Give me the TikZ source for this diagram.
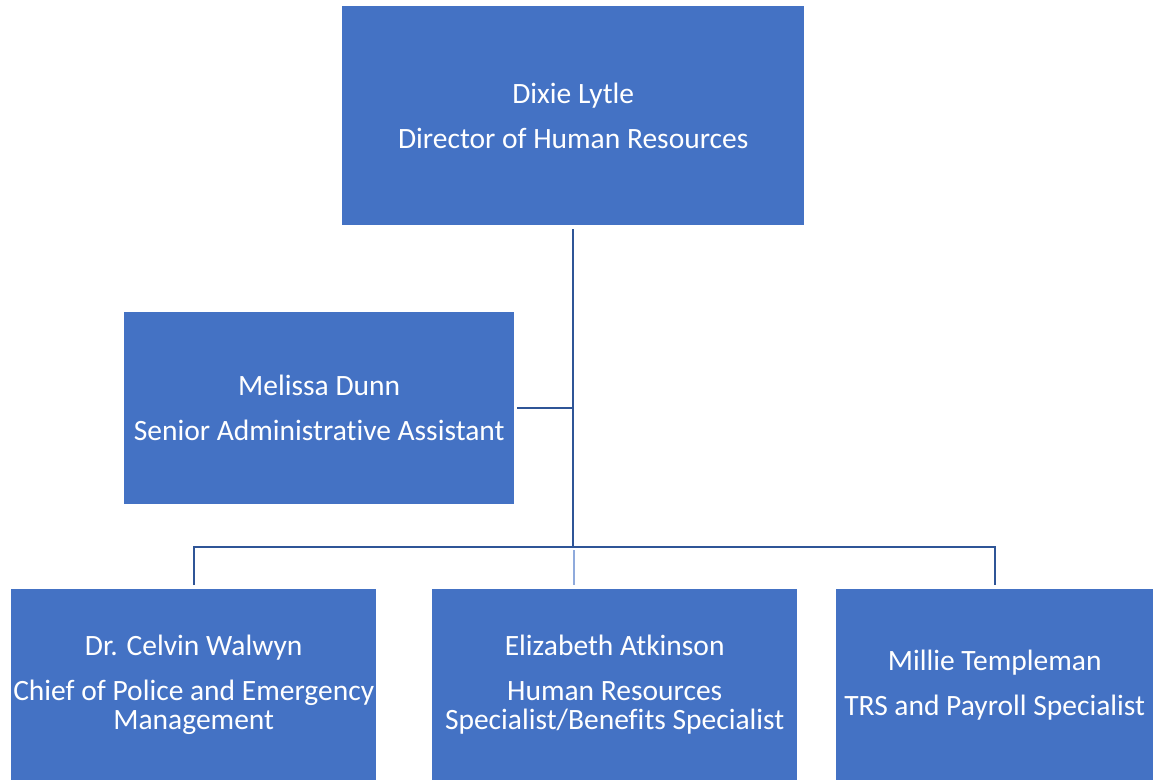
\documentclass[tikz,border=0pt]{standalone}
\usepackage{fontspec}
\setmainfont[Ligatures=NoCommon]{Carlito}
\definecolor{boxblue}{HTML}{4472C4}
\definecolor{linkblue}{HTML}{2F5597}
\definecolor{lightlink}{HTML}{8FAADC}
\tikzset{
  orgbox/.style={rectangle, fill=boxblue, draw=none, anchor=north west, inner sep=0pt,
    text=white, align=center, font=\fontsize{29.5}{29.5}\selectfont},
  link/.style={draw=linkblue, line width=2.4pt},
  faintlink/.style={draw=lightlink, line width=1.6pt}
}
\begin{document}
\begin{tikzpicture}[x=1pt,y=-1pt]
\useasboundingbox (0,0) rectangle (1154,780);
\node[orgbox, minimum width=462pt, minimum height=219pt] (dixie) at (342,6)
  {Dixie Lytle\\[15.5pt]Director of Human Resources};
\node[orgbox, minimum width=390pt, minimum height=192pt] (melissa) at (124,312)
  {Melissa Dunn\\[15.5pt]Senior Administrative Assistant};
\node[orgbox, minimum width=365pt, minimum height=191pt] (celvin) at (11,589)
  {Dr. Celvin Walwyn\\[15.5pt]Chief of Police and Emergency\\Management};
\node[orgbox, minimum width=365pt, minimum height=191pt] (elizabeth) at (432,589)
  {Elizabeth Atkinson\\[15.5pt]Human Resources\\Specialist/Benefits Specialist};
\node[orgbox, minimum width=317pt, minimum height=191pt] (millie) at (836,589)
  {Millie Templeman\\[15.5pt]TRS and Payroll Specialist};
\coordinate (bar) at (573,547);
\coordinate (elibar) at (574,550);
\draw[faintlink, shorten >=4pt] (elibar) -- (elibar |- elizabeth.north);
\draw[link, shorten <=4pt] (dixie.south) -- (dixie.south |- bar);
\draw[link, shorten <=3pt] (melissa.east) -- (melissa.east -| dixie.south);
\draw[link, shorten <=4pt, shorten >=4pt] (celvin.north) -- (celvin.north |- bar)
  -- (millie.north |- bar) -- (millie.north);
\end{tikzpicture}
\end{document}
